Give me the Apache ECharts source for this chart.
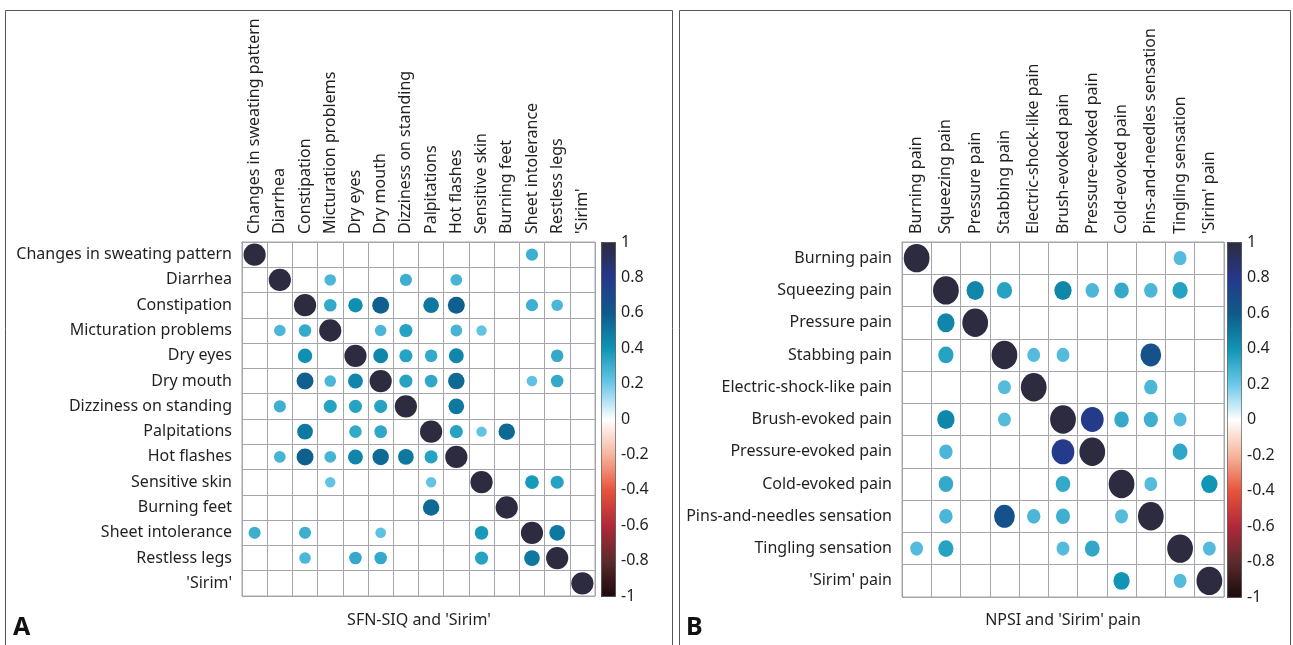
<!DOCTYPE html>
<html>
<head>
<meta charset="utf-8">
<script src="https://cdn.jsdelivr.net/npm/echarts@6/dist/echarts.min.js"></script>
<style>
  html, body { margin: 0; padding: 0; background: #fff; }
  #main { width: 1293px; height: 645px; }
</style>
</head>
<body>
<div id="main"></div>
<script>
// 左图：SFN-SIQ 条目
const sfnLabels = [
  "Changes in sweating pattern", "Diarrhea", "Constipation", "Micturation problems",
  "Dry eyes", "Dry mouth", "Dizziness on standing", "Palpitations", "Hot flashes",
  "Sensitive skin", "Burning feet", "Sheet intolerance", "Restless legs", "'Sirim'"
];
// 相关系数矩阵（0 = 空白格）
const sfnR = [
  [1, 0, 0, 0, 0, 0, 0, 0, 0, 0, 0, 0.30, 0, 0],
  [0, 1, 0, 0.27, 0, 0, 0.30, 0, 0.28, 0, 0, 0, 0, 0],
  [0, 0, 1, 0.32, 0.42, 0.58, 0, 0.50, 0.58, 0, 0, 0.30, 0.27, 0],
  [0, 0.27, 0.32, 1, 0, 0.27, 0.35, 0, 0.28, 0.22, 0, 0, 0, 0],
  [0, 0, 0.42, 0, 1, 0.45, 0.35, 0.32, 0.45, 0, 0, 0, 0.32, 0],
  [0, 0, 0.58, 0.27, 0.45, 1, 0.35, 0.33, 0.55, 0, 0, 0.23, 0.32, 0],
  [0, 0.30, 0, 0.35, 0.35, 0.35, 1, 0, 0.50, 0, 0, 0, 0, 0],
  [0, 0, 0.50, 0, 0.32, 0.33, 0, 1, 0.35, 0.22, 0.55, 0, 0, 0],
  [0, 0.28, 0.58, 0.28, 0.45, 0.55, 0.50, 0.35, 1, 0, 0, 0, 0, 0],
  [0, 0, 0, 0.22, 0, 0, 0, 0.22, 0, 1, 0, 0.38, 0.35, 0],
  [0, 0, 0, 0, 0, 0, 0, 0.55, 0, 0, 1, 0, 0, 0],
  [0.30, 0, 0.30, 0, 0, 0.23, 0, 0, 0, 0.38, 0, 1, 0.50, 0],
  [0, 0, 0.27, 0, 0.32, 0.32, 0, 0, 0, 0.35, 0, 0.50, 1, 0],
  [0, 0, 0, 0, 0, 0, 0, 0, 0, 0, 0, 0, 0, 1]
];

// 右图：NPSI 条目
const npsiLabels = [
  "Burning pain", "Squeezing pain", "Pressure pain", "Stabbing pain",
  "Electric-shock-like pain", "Brush-evoked pain", "Pressure-evoked pain",
  "Cold-evoked pain", "Pins-and-needles sensation", "Tingling sensation", "'Sirim' pain"
];
const npsiR = [
  [1, 0, 0, 0, 0, 0, 0, 0, 0, 0.25, 0],
  [0, 1, 0.45, 0.35, 0, 0.45, 0.27, 0.32, 0.27, 0.35, 0],
  [0, 0.45, 1, 0, 0, 0, 0, 0, 0, 0, 0],
  [0, 0.35, 0, 1, 0.25, 0.25, 0, 0, 0.65, 0, 0],
  [0, 0, 0, 0.25, 1, 0, 0, 0, 0.27, 0, 0],
  [0, 0.45, 0, 0.25, 0, 1, 0.78, 0.32, 0.30, 0.25, 0],
  [0, 0.27, 0, 0, 0, 0.78, 1, 0, 0, 0.33, 0],
  [0, 0.32, 0, 0, 0, 0.32, 0, 1, 0.25, 0, 0.40],
  [0, 0.27, 0, 0.65, 0.27, 0.30, 0, 0.25, 1, 0, 0],
  [0.25, 0.35, 0, 0, 0, 0.25, 0.33, 0, 0, 1, 0.25],
  [0, 0, 0, 0, 0, 0, 0, 0.40, 0, 0.25, 1]
];

// 色标（-1 ~ 1，步长 0.2）
const barColors = ["#1b0a0c", "#5c2b2c", "#b0283a", "#e8533c", "#f6b59c", "#ffffff",
  "#6cc8ea", "#0f95b5", "#0f5a8a", "#26388c", "#2c2b3f"];

const FONT = "Noto Sans";
const GRID_C = "#a3a7ab";
const TXT = "#231f20";

// 面板布局
const panels = [
  { labels: sfnLabels, r: sfnR, left: 242, top: 242, width: 353, height: 354, barLeft: 601 },
  { labels: npsiLabels, r: npsiR, left: 902, top: 242, width: 322, height: 355, barLeft: 1227 }
];

function toPoints(r) {
  let pts = [];
  r.forEach((row, i) => {
    row.forEach((v, j) => {
      if (v !== 0) pts.push([j, i, v]);
    });
  });
  return pts;
}

let grid = [], xAxis = [], yAxis = [], series = [], visualMap = [];
// 矩阵网格 0、1
panels.forEach((p, k) => {
  const n = p.labels.length;
  const cw = p.width / n, ch = p.height / n;
  grid.push({ left: p.left, top: p.top, width: p.width, height: p.height, show: true, borderColor: GRID_C, borderWidth: 1 });
  xAxis.push({
    gridIndex: k, type: "category", data: p.labels, position: "top",
    axisLine: { show: true, lineStyle: { color: GRID_C } },
    axisTick: { show: false },
    splitLine: { show: true, interval: 0, lineStyle: { color: GRID_C, width: 1 } },
    axisLabel: { interval: 0, rotate: -90, margin: 8, fontFamily: FONT, fontSize: 16, color: TXT }
  });
  yAxis.push({
    gridIndex: k, type: "category", data: p.labels, inverse: true,
    axisLine: { show: true, lineStyle: { color: GRID_C } },
    axisTick: { show: false },
    splitLine: { show: true, interval: 0, lineStyle: { color: GRID_C, width: 1 } },
    axisLabel: { interval: 0, margin: 10, fontFamily: FONT, fontSize: 16, color: TXT }
  });
  series.push({
    type: "scatter", xAxisIndex: k, yAxisIndex: k,
    data: toPoints(p.r),
    symbol: "circle",
    symbolSize: (val) => {
      const s = Math.sqrt(Math.abs(val[2])) * 0.88;
      return [cw * s, ch * s];
    },
    itemStyle: { opacity: 1 },
    silent: true
  });
  visualMap.push({
    type: "continuous", min: -1, max: 1, dimension: 2, seriesIndex: k,
    calculable: false, text: null, padding: 0,
    left: p.barLeft, top: p.top, itemWidth: 14, itemHeight: p.height,
    borderColor: "#444", borderWidth: 1,
    inRange: { color: barColors }
  });
});
// 色标刻度轴 网格 2、3
panels.forEach((p, k) => {
  grid.push({ left: p.barLeft, top: p.top, width: 14, height: p.height });
  xAxis.push({ gridIndex: k + 2, type: "value", show: false, min: 0, max: 1 });
  yAxis.push({
    gridIndex: k + 2, type: "value", position: "right", min: -10, max: 10, interval: 2,
    axisLine: { show: false },
    axisTick: { show: true, length: 3, lineStyle: { color: "#777" } },
    splitLine: { show: false },
    axisLabel: {
      margin: 6, fontFamily: FONT, fontSize: 16, color: TXT,
      formatter: (v) => String(Math.round(v) / 10)
    }
  });
});

let chart = echarts.init(document.getElementById("main"));
chart.setOption({
  backgroundColor: "#fff",
  animation: false,
  grid: grid,
  xAxis: xAxis,
  yAxis: yAxis,
  visualMap: visualMap,
  series: series,
  graphic: [
    { type: "rect", shape: { x: 5.5, y: 10.5, width: 667, height: 650 }, style: { fill: "none", stroke: "#555", lineWidth: 1 } },
    { type: "rect", shape: { x: 679.5, y: 10.5, width: 611, height: 650 }, style: { fill: "none", stroke: "#555", lineWidth: 1 } },
    { type: "text", left: 13, top: 615, style: { text: "A", font: "bold 25px " + FONT, fill: "#111" } },
    { type: "text", left: 686, top: 615, style: { text: "B", font: "bold 25px " + FONT, fill: "#111" } },
    { type: "text", x: 419, y: 620, style: { text: "SFN-SIQ and 'Sirim'", font: "16px " + FONT, fill: TXT, align: "center", verticalAlign: "middle" } },
    { type: "text", x: 1063, y: 620, style: { text: "NPSI and 'Sirim' pain", font: "16px " + FONT, fill: TXT, align: "center", verticalAlign: "middle" } }
  ]
});
</script>
</body>
</html>
